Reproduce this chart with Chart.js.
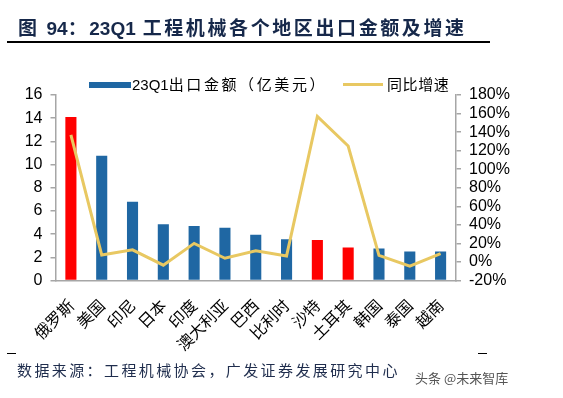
<!DOCTYPE html>
<html>
<head>
<meta charset="utf-8">
<script src="https://cdn.jsdelivr.net/npm/chart.js@4"></script>
<style>
    body { margin: 0; background: #fff; }
    #wrap { position: relative; width: 563px; height: 398px; overflow: hidden; font-family: "Noto Sans CJK SC", "Liberation Sans", sans-serif; }
    #chart { position: absolute; left: 0; top: 0; }
    .title { position: absolute; left: 18px; top: 13px; font-size: 19px; font-weight: bold; color: #16284a; letter-spacing: 2.6px; white-space: nowrap; }
    .title .n { font-family: "Liberation Sans"; letter-spacing: 0; }
    .rule { position: absolute; background: #000; height: 2px; }
    .legend-box { position: absolute; background: #1f67a3; }
    .legend-line { position: absolute; background: #e8c862; }
    .legend-text { position: absolute; font-size: 15px; color: #000; white-space: nowrap; line-height: 20px; }
    .source { position: absolute; left: 17px; top: 359px; font-size: 15px; color: #1f2d4d; letter-spacing: 2.4px; white-space: nowrap; line-height: 22px; }
    .mark { position: absolute; left: 415px; top: 369px; font-size: 13px; color: #555; white-space: nowrap; line-height: 18px; }
</style>
</head>
<body>
<div id="wrap">
    <canvas id="chart" width="563" height="398"></canvas>
    <div class="title">图 <span class="n">94</span>：<span class="n">23Q1</span> 工程机械各个地区出口金额及增速</div>
    <div class="rule" style="left:7px; top:41px; width:483px;"></div>

    <div class="legend-box" style="left:89px; top:82px; width:42px; height:6px;"></div>
    <div class="legend-text" style="left:132px; top:74px; letter-spacing:2.6px;"><span style="font-family:'Liberation Sans';letter-spacing:0">23Q1</span>出口金额（亿美元）</div>
    <div class="legend-line" style="left:343px; top:83px; width:40px; height:3px;"></div>
    <div class="legend-text" style="left:387px; top:74px; letter-spacing:0.6px;">同比增速</div>

    <div class="rule" style="left:7px; top:353px; width:9px; height:1px;"></div>
    <div class="rule" style="left:478px; top:353px; width:9px; height:1px;"></div>
    <div class="source">数据来源：工程机械协会，广发证券发展研究中心</div>
    <div class="mark">头条 @未来智库</div>
</div>

<script>
// 地区
const regions = ['俄罗斯', '美国', '印尼', '日本', '印度', '澳大利亚', '巴西', '比利时', '沙特', '土耳其', '韩国', '泰国', '越南'];
// 23Q1出口金额（亿美元）
const exportValues = [14.1, 10.75, 6.8, 4.85, 4.7, 4.55, 3.95, 3.55, 3.5, 2.85, 2.75, 2.5, 2.5];
// 同比增速（%）
const growthValues = [137, 7.5, 13, -3.5, 20, 4, 12, 6.5, 157, 125, 7, -4.5, 9];
// 红色标注的地区
const highlighted = ['俄罗斯', '沙特', '土耳其'];

const leftTicks = [0, 2, 4, 6, 8, 10, 12, 14, 16];
const rightTicks = [-20, 0, 20, 40, 60, 80, 100, 120, 140, 160, 180];

const BLUE = '#1f67a3';
const RED = '#ff0000';
const GOLD = '#e8c862';
const AXIS = '#a6a6a6';

const ctx = document.getElementById('chart').getContext('2d');

new Chart(ctx, {
    type: 'bar',
    data: {
        labels: regions,
        datasets: [
            {
                type: 'line',
                label: '同比增速',
                data: growthValues,
                yAxisID: 'y1',
                borderColor: GOLD,
                borderWidth: 3,
                pointRadius: 0,
                tension: 0,
                fill: false,
                order: 0
            },
            {
                label: '23Q1出口金额（亿美元）',
                data: exportValues,
                yAxisID: 'y',
                backgroundColor: regions.map(r => highlighted.includes(r) ? RED : BLUE),
                barPercentage: 0.36,
                categoryPercentage: 1,
                order: 1
            }
        ]
    },
    options: {
        responsive: false,
        animation: false,
        layout: {
            padding: { top: 95, left: 0, right: 0, bottom: 0 }
        },
        plugins: {
            legend: { display: false },
            tooltip: { enabled: false }
        },
        scales: {
            x: {
                grid: { display: false },
                border: { color: AXIS, width: 1.5 },
                ticks: {
                    autoSkip: false,
                    minRotation: 45,
                    maxRotation: 45,
                    padding: 7,
                    color: '#000',
                    font: { family: 'Noto Sans CJK SC', size: 16 }
                },
                afterFit: scale => { scale.height = 117.5; }
            },
            y: {
                position: 'left',
                min: 0,
                max: 16,
                afterBuildTicks: scale => { scale.ticks = leftTicks.map(v => ({ value: v })); },
                grid: { drawOnChartArea: false, drawTicks: true, tickLength: 5, color: AXIS, lineWidth: 1.5 },
                border: { color: AXIS, width: 1.5 },
                ticks: {
                    autoSkip: false,
                    padding: 8,
                    color: '#000',
                    font: { family: 'Liberation Sans', size: 16 }
                },
                afterFit: scale => { scale.width = 55.5; }
            },
            y1: {
                position: 'right',
                min: -20,
                max: 180,
                afterBuildTicks: scale => { scale.ticks = rightTicks.map(v => ({ value: v })); },
                grid: { drawOnChartArea: false, drawTicks: true, tickLength: 5, color: AXIS, lineWidth: 1.5 },
                border: { color: AXIS, width: 1.5 },
                ticks: {
                    autoSkip: false,
                    padding: 8,
                    color: '#000',
                    font: { family: 'Liberation Sans', size: 16 },
                    callback: v => v + '%'
                },
                afterFit: scale => { scale.width = 107; }
            }
        }
    }
});
</script>
</body>
</html>
